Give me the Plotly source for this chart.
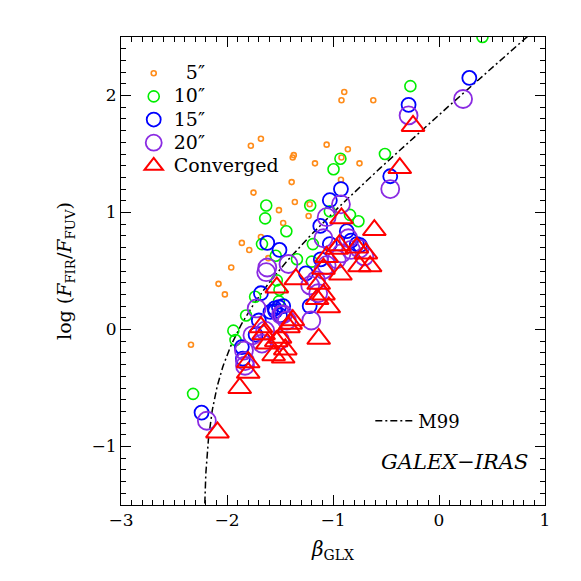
import numpy as np
import plotly.graph_objects as go

# ---- data ----
ap5_beta = [-1.775, -1.68, -1.38, -1.37, -1.17, -1.06, -0.894, -0.92, -0.62, -0.86, -0.75,
            -0.92, -0.925, -1.39, -1.75, -1.36, -1.51, -1.23, -1.47, -1.86, -1.79, -1.68,
            -1.96, -2.08, -2.02, -2.34, -1.61, -1.22]
ap5_irx = [1.57, 1.63, 1.47, 1.49, 1.42, 1.58, 2.03, 1.96, 1.96, 1.54, 1.42,
           1.47, 1.28, 1.26, 1.17, 1.09, 1.02, 0.97, 0.91, 0.74, 0.68, 0.79,
           0.53, 0.39, 0.30, -0.13, 0.61, 1.07]

ap10_beta = [0.41, -0.27, -0.51, -0.93, -0.995, -0.84, -0.76, -1.03, -1.63, -1.64, -1.215,
             -1.44, -1.67, -1.54, -1.34, -1.19, -1.20, -1.735, -1.82, -1.94, -1.92,
             -1.505, -1.51, -2.32, -1.53]
ap10_irx = [2.5, 2.08, 1.50, 1.46, 1.37, 0.98, 0.925, 1.01, 1.06, 0.95, 1.06,
            0.84, 0.73, 0.63, 0.60, 0.73, 0.58, 0.28, 0.12, -0.01, -0.09,
            0.34, 0.24, -0.55, 0.42]

ap15_beta = [0.286, -0.287, -0.46, -0.925, -1.03, -0.87, -1.12, -1.62, -1.505, -0.775,
             -1.115, -1.255, -1.68, -1.545, -1.70, -1.73, -1.86, -1.22, -0.745, -1.03,
             -0.83, -1.85, -1.59, -1.51, -1.47, -2.24, -1.50, -1.55]
ap15_irx = [2.15, 1.92, 1.31, 1.20, 1.105, 0.84, 0.885, 0.74, 0.68, 0.73,
            0.60, 0.48, 0.31, 0.157, 0.077, -0.045, -0.15, 0.20, 0.72, 0.73,
            0.76, -0.25, 0.15, 0.19, 0.20, -0.71, 0.12, 0.18]

ap20_beta = [0.227, -0.287, -0.46, -0.925, -1.06, -1.09, -0.855, -0.75, -0.705, -0.92,
             -1.06, -1.09, -0.83, -0.965, -1.16, -1.215, -1.205, -1.42, -1.62, -1.63,
             -1.72, -1.47, -1.64, -1.67, -1.83, -2.19, -1.83, -1.435, -1.14, -1.50,
             -1.76, -1.84, -1.49]
ap20_irx = [1.97, 1.83, 1.20, 1.07, 0.96, 0.78, 0.78, 0.69, 0.625, 0.65,
            0.55, 0.51, 0.68, 0.60, 0.42, 0.377, 0.077, 0.56, 0.53, 0.49,
            0.18, 0.13, -0.01, -0.12, -0.27, -0.78, -0.31, 0.077, 0.31, -0.09,
            -0.05, -0.18, 0.126]

conv_beta = [-0.245, -0.37, -0.61, -0.92, -0.94, -0.775, -0.69, -0.65, -0.75, -1.06,
             -1.09, -0.93, -1.35, -1.53, -0.965, -1.135, -1.09, -1.15, -1.04, -1.135,
             -1.40, -1.68, -1.535, -1.45, -1.56, -1.655, -1.80, -1.80, -1.88, -2.09,
             -1.62, -1.50, -1.47, -1.38, -1.42]
conv_irx = [1.74, 1.38, 0.85, 0.95, 0.72, 0.70, 0.65, 0.54, 0.54, 0.62,
            0.52, 0.47, 0.43, 0.36, 0.69, 0.39, 0.30, 0.26, 0.19, -0.08,
            0.05, 0.02, -0.10, -0.17, -0.22, -0.04, -0.28, -0.37, -0.50, -0.88,
            -0.12, -0.07, -0.24, 0.08, 0.02]

series_names = ["\u00a0\u00a05\u2033", "10\u2033", "15\u2033", "20\u2033", "Converged"]
x_ticks = [-3, -2, -1, 0, 1]
x_tick_text = ["\u22123", "\u22122", "\u22121", "0", "1"]
y_ticks = [-1, 0, 1, 2]
y_tick_text = ["\u22121", "0", "1", "2"]

# M99 relation: A_FUV = 4.43 + 1.99 beta ; log(F_FIR/F_FUV)
m99_a, m99_b, m99_c = 4.43, 1.99, 0.07
beta0 = -m99_a / m99_b
m99_beta = np.concatenate([beta0 + np.geomspace(1e-4, 0.2, 200), np.linspace(beta0 + 0.21, 0.95, 200)])
A = m99_a + m99_b * m99_beta
m99_irx = np.log10(10 ** (0.4 * A) - 1) + m99_c

FONT = "DejaVu Serif"

fig = go.Figure()

fig.add_trace(go.Scatter(x=m99_beta, y=m99_irx, mode="lines", name="M99",
                         line=dict(color="black", width=1.5, dash="7px,3px,2px,3px"),
                         legend="legend2"))

styles = [
    (ap5_beta, ap5_irx, "#ff8c1a", 5, 1.6, "circle-open"),
    (ap10_beta, ap10_irx, "#00ee00", 11, 1.6, "circle-open"),
    (ap15_beta, ap15_irx, "#0000ff", 14, 1.8, "circle-open"),
    (ap20_beta, ap20_irx, "#8a2be2", 18, 1.8, "circle-open"),
    (conv_beta, conv_irx, "#ff0000", 20, 2.0, "triangle-up-open"),
]
for name, (bx, by, col, sz, lw, sym) in zip(series_names, styles):
    fig.add_trace(go.Scatter(x=bx, y=by, mode="markers",
                             name='<span style="font-size:19px">' + name + '</span>',
                             marker=dict(symbol=sym, size=sz, color=col,
                                         line=dict(color=col, width=lw)),
                             cliponaxis=True))

axis_common = dict(showgrid=False, zeroline=False, showline=True, linecolor="black",
                   linewidth=1, mirror="ticks", ticks="inside", ticklen=10,
                   tickcolor="black", tickwidth=1, automargin=False,
                   tickfont=dict(family=FONT, size=17, color="black"))

fig.update_xaxes(range=[-3, 1], tickvals=x_ticks, ticktext=x_tick_text,
                 minor=dict(dtick=0.1, ticklen=5, ticks="inside", tickcolor="black"),
                 title=dict(text="<i>β</i><sub>GLX</sub>", font=dict(family=FONT, size=20, color="black"),
                            standoff=12),
                 **axis_common)
fig.update_yaxes(range=[-1.5, 2.5], tickvals=y_ticks, ticktext=y_tick_text,
                 minor=dict(dtick=0.1, ticklen=5, ticks="inside", tickcolor="black"),
                 title=dict(text="log (<i>F</i><sub>FIR</sub>/<i>F</i><sub>FUV</sub>)",
                            font=dict(family=FONT, size=19, color="black"), standoff=14),
                 **axis_common)

fig.update_layout(
    width=581, height=581,
    margin=dict(l=121, r=36, t=37, b=76),
    paper_bgcolor="white", plot_bgcolor="white",
    font=dict(family=FONT, color="black"),
    showlegend=True,
    legend=dict(x=0.03, y=0.958, xanchor="left", yanchor="top", bgcolor="rgba(0,0,0,0)",
                font=dict(family=FONT, size=15.5, color="black"), itemsizing="trace",
                tracegroupgap=0),
    legend2=dict(x=0.588, y=0.219, xanchor="left", yanchor="top", bgcolor="rgba(0,0,0,0)",
                 font=dict(family=FONT, size=18, color="black"), itemwidth=38),
    annotations=[dict(text="<i>GALEX\u2212IRAS</i>", x=0.965, y=0.092, xref="paper", yref="paper",
                      xanchor="right", yanchor="middle", showarrow=False,
                      font=dict(family=FONT, size=21, color="black"))],
)

fig.write_html("out.html", config={"displayModeBar": False},
               post_script="document.body.style.margin='0';")
